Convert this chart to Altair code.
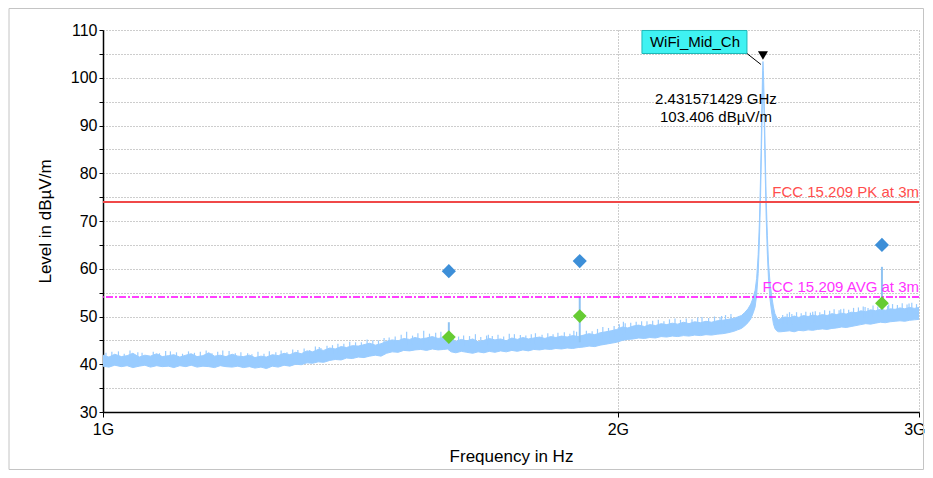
import altair as alt
import pandas as pd

# ---------------- data ----------------
# trace envelope: frequency in GHz, lower and upper edge in dBuV/m
F = [1.000, 1.008, 1.016, 1.025, 1.033, 1.041, 1.050, 1.058, 1.066, 1.075, 1.083, 1.092, 1.100, 1.109, 1.118, 1.126, 1.135, 1.144, 1.153, 1.162, 1.171, 1.180, 1.190, 1.199,
     1.208, 1.218, 1.227, 1.237, 1.246, 1.256, 1.266, 1.276, 1.286, 1.296, 1.306, 1.316, 1.326, 1.336, 1.346,
     1.357, 1.367, 1.378, 1.388, 1.399, 1.410, 1.421, 1.432, 1.443, 1.454, 1.465, 1.476, 1.488, 1.499, 1.511, 1.522, 1.534, 1.546, 1.558, 1.570, 1.582, 1.590,
     1.598, 1.608, 1.620, 1.632, 1.645, 1.657, 1.670, 1.682, 1.695, 1.708, 1.721, 1.734, 1.747, 1.760, 1.773, 1.786, 1.800, 1.813, 1.827, 1.840, 1.854, 1.868, 1.882, 1.896,
     1.910, 1.924, 1.939, 1.953, 1.968, 1.982, 1.997, 2.012, 2.027, 2.042, 2.057, 2.073, 2.088, 2.104, 2.120, 2.136, 2.152, 2.168, 2.185, 2.201, 2.218, 2.235, 2.252, 2.269, 2.286, 2.303, 2.320, 2.338, 2.350,
     2.362, 2.372, 2.383, 2.392, 2.400, 2.406, 2.411, 2.416, 2.420, 2.424, 2.427, 2.430, 2.4316, 2.433, 2.436, 2.439, 2.442, 2.446, 2.450, 2.455, 2.461, 2.466, 2.471, 2.477, 2.483,
     2.490, 2.505, 2.520, 2.536, 2.552, 2.568, 2.584, 2.600, 2.617, 2.634, 2.651, 2.668, 2.685, 2.703, 2.720, 2.738, 2.756, 2.774, 2.792, 2.811, 2.829, 2.848, 2.867, 2.886, 2.905, 2.924, 2.943, 2.962, 2.981, 3.000]
LO = [39.6, 39.4, 39.8, 39.5, 39.7, 39.3, 39.6, 39.8, 39.4, 39.7, 39.5, 39.6, 39.3, 39.7, 39.5, 39.8, 39.4, 39.6, 39.5, 39.3, 39.7, 39.5, 39.4, 39.6,
      39.3, 39.5, 39.2, 39.4, 39.1, 39.6, 39.4, 39.8, 39.6, 40.0, 39.9, 40.3, 40.2, 40.5, 40.4,
      40.8, 41.0, 40.9, 41.3, 41.2, 41.5, 41.4, 41.7, 41.9, 41.7, 42.3, 42.6, 42.5, 42.9, 42.8, 43.0, 43.1, 42.9, 43.2, 43.0, 43.1, 43.2,
      42.6, 42.4, 42.7, 42.5, 42.3, 42.6, 42.4, 42.7, 42.5, 42.8, 42.6, 42.9, 42.7, 43.0, 42.8, 43.1, 43.0, 43.2, 43.1, 43.3, 43.2, 43.4, 43.3, 43.5,
      43.6, 43.8, 43.7, 44.0, 44.2, 44.4, 44.6, 45.0, 45.2, 45.3, 45.5, 45.4, 45.6, 45.5, 45.8, 45.7, 45.9, 45.8, 46.0, 45.9, 46.1, 46.0, 46.2, 46.1, 46.3, 46.4, 46.6, 46.9, 47.2,
      47.5, 48.0, 48.7, 49.5, 50.8, 52.0, 54.5, 59.0, 66.0, 76.0, 86.0, 97.0, 100.5, 98.0, 90.0, 80.0, 71.0, 63.0, 57.5, 53.5, 50.5, 48.5, 47.5, 47.0, 46.8,
      46.8, 46.9, 47.0, 46.8, 47.1, 47.0, 47.2, 47.1, 47.3, 47.4, 47.3, 47.5, 47.6, 47.8, 47.7, 47.9, 48.1, 48.3, 48.5, 48.4, 48.6, 48.8, 48.7, 48.9, 49.0, 49.1, 49.0, 49.2, 49.3, 49.4]
HI = [41.9, 41.5, 42.1, 41.6, 41.8, 42.3, 41.5, 41.9, 41.7, 42.2, 41.6, 41.8, 42.0, 41.5, 41.9, 42.2, 41.6, 41.8, 42.4, 41.7, 41.9, 41.6, 42.1, 41.7,
      41.6, 41.9, 41.4, 41.7, 41.5, 42.0, 41.8, 42.3, 42.0, 42.5, 42.2, 42.8, 42.6, 43.1, 42.9,
      43.4, 43.2, 43.7, 43.5, 43.9, 43.8, 44.1, 44.4, 44.0, 44.3, 44.8, 45.1, 44.9, 45.4, 45.2, 45.6, 45.3, 45.5, 45.8, 45.4, 45.6, 45.9,
      45.1, 44.8, 45.2, 44.9, 45.3, 44.7, 45.0, 45.4, 45.1, 45.3, 44.9, 45.5, 45.2, 45.6, 45.3, 45.5, 45.7, 45.4, 45.8, 45.6, 45.9, 45.7, 46.0, 45.8,
      46.1, 46.4, 46.2, 46.6, 46.8, 47.0, 47.3, 47.8, 47.6, 48.0, 48.2, 47.9, 48.3, 48.1, 48.5, 48.3, 48.6, 48.4, 48.8, 48.5, 48.9, 48.7, 49.0, 48.8, 49.1, 49.2, 49.4, 49.6, 49.9,
      50.2, 50.8, 51.6, 52.6, 54.0, 55.5, 58.0, 63.0, 70.0, 80.0, 90.0, 100.5, 103.4, 101.5, 94.0, 84.0, 75.0, 67.0, 61.0, 57.0, 54.0, 52.0, 50.6, 49.8, 49.3,
      49.6, 49.9, 49.7, 50.1, 49.8, 50.2, 50.0, 50.3, 50.1, 50.4, 50.2, 50.6, 50.4, 50.7, 50.5, 50.9, 50.8, 51.2, 51.0, 51.4, 51.2, 51.5, 51.3, 51.6, 51.5, 51.8, 51.6, 51.9, 51.7, 51.9]

# noise spikes on the trace (frequency, base, top)
SPK_F = [1.004, 1.012, 1.021, 1.029, 1.037, 1.048, 1.054, 1.070, 1.079, 1.088, 1.095, 1.104, 1.113, 1.122, 1.131, 1.140, 1.149, 1.158, 1.167, 1.175, 1.185, 1.195,
         1.204, 1.215, 1.222, 1.232, 1.242, 1.251, 1.262, 1.271, 1.281, 1.291, 1.300, 1.311, 1.321, 1.331, 1.338, 1.341, 1.352,
         1.362, 1.372, 1.383, 1.394, 1.405, 1.416, 1.427, 1.438, 1.449, 1.460, 1.470, 1.482, 1.494, 1.505, 1.517, 1.528, 1.540, 1.552, 1.565, 1.576, 1.586,
         1.603, 1.614, 1.625, 1.638, 1.651, 1.663, 1.676, 1.680, 1.689, 1.702, 1.715, 1.728, 1.740, 1.754, 1.767, 1.780, 1.790, 1.806, 1.820, 1.833, 1.845, 1.861, 1.875, 1.885, 1.892,
         1.917, 1.932, 1.946, 1.960, 1.975, 1.990, 2.004, 2.015, 2.020, 2.035, 2.050, 2.065, 2.080, 2.096, 2.112, 2.128, 2.144, 2.160, 2.176, 2.193, 2.210, 2.227, 2.240, 2.260, 2.278, 2.295, 2.300, 2.312, 2.329,
         2.497, 2.512, 2.520, 2.528, 2.544, 2.560, 2.576, 2.592, 2.600, 2.609, 2.625, 2.642, 2.660, 2.676, 2.694, 2.700, 2.711, 2.729, 2.747, 2.765, 2.783, 2.790, 2.801, 2.820, 2.838, 2.857, 2.876, 2.880, 2.895, 2.914, 2.933, 2.952, 2.960, 2.971, 2.990]
SPK_LO = [40.6, 40.7, 40.5, 40.6, 40.7, 40.6, 40.5, 40.7, 40.6, 40.5, 40.7, 40.6, 40.5, 40.6, 40.7, 40.6, 40.5, 40.6, 40.7, 40.6, 40.5, 40.6,
          40.5, 40.4, 40.3, 40.5, 40.4, 40.5, 40.6, 40.9, 41.0, 41.2, 41.1, 41.4, 41.5, 41.8, 41.7, 41.8, 42.0,
          42.1, 42.2, 42.3, 42.6, 42.5, 42.8, 43.0, 43.0, 43.2, 43.5, 43.5, 43.8, 44.0, 44.1, 44.2, 44.3, 44.2, 44.4, 44.3, 44.5, 44.4,
          43.8, 43.7, 43.8, 43.7, 43.9, 43.7, 43.8, 43.9, 43.8, 44.0, 43.9, 44.1, 44.0, 44.2, 44.1, 44.3, 44.2, 44.3, 44.4, 44.5, 44.4, 44.6, 44.6, 44.7, 44.7,
          44.9, 45.0, 45.1, 45.3, 45.5, 45.7, 46.0, 46.3, 46.4, 46.6, 46.8, 46.8, 46.9, 47.0, 47.1, 47.1, 47.2, 47.2, 47.3, 47.3, 47.4, 47.5, 47.5, 47.6, 47.6, 47.7, 47.8, 47.9, 48.1,
          48.3, 48.4, 48.4, 48.4, 48.5, 48.5, 48.6, 48.6, 48.7, 48.7, 48.8, 48.8, 48.9, 49.0, 49.1, 49.1, 49.2, 49.3, 49.4, 49.6, 49.7, 49.8, 49.8, 49.9, 50.0, 50.1, 50.2, 50.2, 50.3, 50.4, 50.4, 50.5, 50.5, 50.6, 50.6]
SPK_HI = [42.4, 42.6, 42.7, 42.2, 42.9, 42.5, 42.4, 42.6, 42.3, 42.8, 42.7, 42.5, 42.2, 42.7, 42.4, 42.6, 42.9, 42.3, 42.6, 42.9, 42.8, 42.3,
          42.5, 42.3, 42.1, 42.6, 42.2, 42.7, 42.5, 42.9, 42.5, 43.1, 43.0, 43.3, 43.0, 43.7, 43.6, 43.4, 43.9,
          44.0, 44.3, 44.3, 44.7, 44.6, 44.6, 45.2, 45.0, 45.0, 45.5, 45.6, 45.8, 46.2, 46.8, 46.0, 46.5, 47.0, 46.4, 46.6, 46.8, 46.2,
          46.1, 45.8, 46.0, 45.9, 46.3, 45.7, 46.0, 46.2, 45.9, 46.2, 45.8, 46.4, 46.3, 46.1, 46.0, 46.3, 46.5, 46.2, 46.5, 46.3, 46.6, 46.7, 46.4, 47.0, 46.8,
          47.0, 46.9, 47.4, 47.8, 47.6, 48.0, 48.4, 48.9, 48.6, 48.7, 48.9, 49.0, 49.0, 49.1, 49.3, 49.0, 49.4, 49.6, 49.3, 49.6, 49.4, 49.8, 49.9, 49.7, 50.0, 49.9, 50.1, 50.3, 50.5,
          50.3, 50.6, 50.9, 50.5, 50.9, 50.7, 51.0, 50.8, 51.0, 51.1, 50.9, 51.3, 51.2, 51.5, 51.3, 51.5, 51.6, 51.4, 51.8, 51.9, 52.1, 52.0, 51.8, 52.3, 52.1, 52.5, 52.2, 52.5, 52.6, 52.4, 52.8, 52.5, 52.7, 52.9, 52.6]

# final measurement points
MK_F = [1.593, 1.900, 2.854]
MK_PK = [59.5, 61.6, 65.0]
MK_AV = [45.7, 50.1, 52.8]
MK_LINE_LO = [45.0, 44.6, 52.8]
MK_LINE_HI = [48.8, 54.1, 60.4]

# limits
LIM_V = [74.0, 54.0]
LIM_TXT = ["FCC 15.209 PK at 3m", "FCC 15.209 AVG at 3m"]

# marker
PEAK_F = 2.431571429
PEAK_L = 103.406
PEAK_NAME = "WiFi_Mid_Ch"
PEAK_TXT1 = "2.431571429 GHz"
PEAK_TXT2 = "103.406 dBµV/m"

X_TICKS = [1, 2, 3]
Y_TICKS = [30, 35, 40, 45, 50, 55, 60, 65, 70, 75, 80, 85, 90, 95, 100, 105, 110]

# ---------------- chart ----------------
FONT = "Liberation Sans"
TRACE = "#99ccff"

trace_df = pd.DataFrame({"f": F, "lo": LO, "hi": HI})
spk_df = pd.DataFrame({"f": SPK_F, "lo": SPK_LO, "hi": SPK_HI})
mk_df = pd.DataFrame({"f": MK_F, "pk": MK_PK, "av": MK_AV, "l0": MK_LINE_LO, "l1": MK_LINE_HI})
peak_df = pd.DataFrame({"f": [PEAK_F], "v": [PEAK_L]})
pk_lim = pd.DataFrame({"f": [3.0], "v": [LIM_V[0]], "t": [LIM_TXT[0]]})
av_lim = pd.DataFrame({"f": [3.0], "v": [LIM_V[1]], "t": [LIM_TXT[1]]})

xscale = alt.Scale(type="log", domain=[1, 3], nice=False)
yscale = alt.Scale(domain=[30, 110], nice=False, zero=False)
xaxis = alt.Axis(values=X_TICKS, labelExpr="datum.value + 'G'", title="Frequency in Hz",
                 grid=True, gridDash=[1, 2], gridColor="#9a9a9a", tickSize=5, labelPadding=4,
                 labelFlush=False,
                 labelAlign={"condition": {"test": "datum.value >= 3", "value": "right"}, "value": "center"},
                 labelOffset={"condition": {"test": "datum.value >= 3", "value": 6}, "value": 0},
                 titlePadding=11)
yaxis = alt.Axis(values=Y_TICKS, labelExpr="datum.value % 10 == 0 ? datum.label : ''",
                 title="Level in dBµV/m", grid=True, gridDash=[1, 2], gridColor="#9a9a9a",
                 tickSize=4, labelPadding=2, titlePadding=16)

X = lambda fld: alt.X(fld, type="quantitative", scale=xscale, axis=xaxis)
Y = lambda fld: alt.Y(fld, type="quantitative", scale=yscale, axis=yaxis)

frame = alt.Chart(pd.DataFrame({"a": [0]})).mark_rect(
    filled=False, stroke="#c4c4c4", strokeWidth=1
).encode(x=alt.value(-94), x2=alt.value(820.5), y=alt.value(-21.5), y2=alt.value(439.5))

area = alt.Chart(trace_df).mark_area(color=TRACE, opacity=1).encode(x=X("f"), y=Y("lo"), y2="hi")
hi_line = alt.Chart(trace_df).mark_line(color=TRACE, strokeWidth=1).encode(x=X("f"), y=Y("hi"))
lo_line = alt.Chart(trace_df).mark_line(color=TRACE, strokeWidth=1).encode(x=X("f"), y=Y("lo"))
spikes = alt.Chart(spk_df).mark_rule(color=TRACE, strokeWidth=1.2).encode(x=X("f"), y=Y("lo"), y2="hi")

mk_lines = alt.Chart(mk_df).mark_rule(color="#8fc3f2", strokeWidth=2).encode(x=X("f"), y=Y("l0"), y2="l1")

pk_rule = alt.Chart(pk_lim).mark_rule(color="#f04848", strokeWidth=2).encode(y=Y("v"))
av_rule = alt.Chart(av_lim).mark_rule(color="#ff00ff", strokeWidth=1.6, strokeDash=[7, 2, 2, 2],
                                      yOffset=-0.4).encode(y=Y("v"))
pk_txt = alt.Chart(pk_lim).mark_text(align="right", baseline="bottom", dy=-2, font=FONT, fontSize=15,
                                     color="#ff4d4d").encode(x=X("f"), y=Y("v"), text="t")
av_txt = alt.Chart(av_lim).mark_text(align="right", baseline="bottom", dy=-2, font=FONT, fontSize=15,
                                     color="#ff33ff").encode(x=X("f"), y=Y("v"), text="t")

green = alt.Chart(mk_df).mark_point(shape="diamond", filled=True, size=190, color="#66cc33", opacity=1
                                    ).encode(x=X("f"), y=Y("av"))
blue = alt.Chart(mk_df).mark_point(shape="diamond", filled=True, size=200, color="#3d8fd8", opacity=1
                                   ).encode(x=X("f"), y=Y("pk"))

box = alt.Chart(peak_df).mark_rect(color="#3ff2f2", stroke="#1cb8b8", strokeWidth=1,
                                   xOffset=-121, x2Offset=-16, yOffset=-31, y2Offset=-8
                                   ).encode(x=X("f"), x2="f", y=Y("v"), y2="v")
box_txt = alt.Chart(peak_df).mark_text(text=PEAK_NAME, font=FONT, fontSize=15, color="black",
                                       dx=-68, dy=-19.5, baseline="middle").encode(x=X("f"), y=Y("v"))
conn = alt.Chart(peak_df).mark_rule(color="black", strokeWidth=1, xOffset=-16, x2Offset=-2,
                                    yOffset=-8, y2Offset=3).encode(x=X("f"), x2="f", y=Y("v"), y2="v")
tri = alt.Chart(peak_df).mark_point(shape="triangle-down", filled=True, size=100, color="black",
                                    opacity=1, yOffset=-6).encode(x=X("f"), y=Y("v"))
t1 = alt.Chart(peak_df).mark_text(text=PEAK_TXT1, font=FONT, fontSize=15, color="black",
                                  dx=-47, dy=37.5, baseline="middle").encode(x=X("f"), y=Y("v"))
t2 = alt.Chart(peak_df).mark_text(text=PEAK_TXT2, font=FONT, fontSize=15, color="black",
                                  dx=-47, dy=55.5, baseline="middle").encode(x=X("f"), y=Y("v"))

chart = alt.layer(
    area, frame, hi_line, lo_line, spikes, mk_lines, pk_rule, av_rule, pk_txt, av_txt,
    green, blue, box, box_txt, conn, tri, t1, t2
).properties(
    width=816, height=382,
    autosize=alt.AutoSizeParams(type="none"),
    padding={"left": 95, "top": 22, "right": 6, "bottom": 58},
).configure_view(strokeWidth=0).configure_axis(
    labelFont=FONT, titleFont=FONT, labelFontSize=16, titleFontSize=17,
    labelColor="black", titleColor="black", titleFontWeight="normal",
    domainColor="black", tickColor="black", domainWidth=1.5,
)

chart.save("out.html", embed_options={"renderer": "svg", "actions": False})
